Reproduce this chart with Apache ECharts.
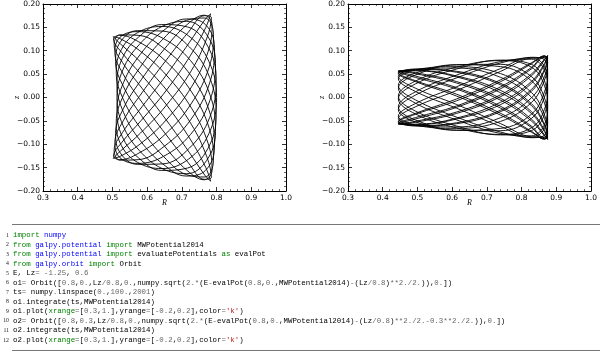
<!DOCTYPE html>
<html><head><meta charset="utf-8">
<script src="https://cdn.jsdelivr.net/npm/echarts@6/dist/echarts.min.js"></script>
<style>html,body{margin:0;padding:0;background:#fff}#c{width:600px;height:355px}</style>
</head><body><div id="c"></div>
<script>
const xRange = [0.3, 1.0];
const zRange = [-0.2, 0.2];

// orbit 1 (o1): R and z along the orbit
const orbit1R = [
.783,.769,.724,.656,.583,.526,.503,.521,.576,.653,.728,.779,
.791,.766,.713,.647,.582,.532,.511,.526,.573,.643,.719,.778,
.800,.778,.719,.643,.573,.526,.511,.532,.582,.647,.713,.766,
.791,.779,.728,.653,.576,.521,.503,.526,.583,.656,.724,.769,
.783,.766,.721,.655,.585,.529,.505,.521,.574,.650,.727,.780,
.794,.768,.713,.645,.580,.532,.513,.528,.575,.642,.716,.775,
.799,.780,.722,.645,.572,.523,.509,.532,.584,.650,.715,.764,
.787,.776,.728,.655,.579,.522,.502,.524,.581,.656,.727,.772,
.785,.765,.718,.653,.585,.531,.507,.522,.573,.647,.725,.781,
.797,.771,.714,.643,.577,.530,.513,.530,.577,.643,.714,.771,
.797,.781,.725,.647,.573,.522,.507,.531,.585,.653,.718,.765,
.785,.772,.727,.656,.581,.524,.502,.522,.579,.655,.728,.776,
.787,.764,.715,.650,.584,.532,.509,.523,.572,.645,.722,.780,
.799,.775,.716,.642,.575,.528,.513,.532,.580,.645,.713,.768,
.794,.780,.727,.650,.574,.521,.505,.529,.585,.655,.721,.766,
.783];
const orbit1Z = [
.179,.150,.089,.016,-.049,-.097,-.125,-.133,-.119,-.078,-.012,.066,
.134,.170,.165,.126,.067,.005,-.053,-.103,-.139,-.152,-.132,-.077,
0,.077,.132,.152,.139,.103,.053,-.005,-.067,-.126,-.165,-.170,
-.134,-.066,.012,.078,.119,.133,.125,.097,.049,-.016,-.089,-.150,
-.179,-.166,-.117,-.048,.020,.075,.113,.134,.133,.104,.046,-.031,
-.106,-.156,-.168,-.142,-.092,-.032,.027,.083,.129,.156,.151,.109,
.037,-.043,-.108,-.142,-.143,-.119,-.077,-.023,.039,.104,.156,.176,
.156,.099,.023,-.048,-.100,-.126,-.130,-.114,-.076,-.016,.057,.127,
.171,.175,.139,.078,.010,-.050,-.097,-.129,-.141,-.126,-.079,-.006,
.073,.135,.163,.152,.113,.059,0,-.059,-.113,-.152,-.163,-.135,
-.073,.006,.079,.126,.141,.129,.097,.050,-.010,-.078,-.139,-.175,
-.171,-.127,-.057,.016,.076,.114,.130,.126,.100,.048,-.023,-.099,
-.156,-.176,-.156,-.104,-.039,.023,.077,.119,.143,.142,.108,.043,
-.037,-.109,-.151,-.156,-.129,-.083,-.027,.032,.092,.142,.168,.156,
.106,.031,-.046,-.104,-.133,-.134,-.113,-.075,-.020,.048,.117,.166,
.179];

// orbit 2 (o2): R and z along the orbit
const orbit2R = [
.875,.866,.828,.740,.613,.494,.445,.494,.613,.740,.828,.866,
.875,.866,.828,.740,.613,.494,.445,.494,.613,.740,.828,.866,
.875,.866,.828,.740,.613,.494,.445,.494,.613,.740,.828,.866,
.875,.866,.828,.740,.613,.494,.445,.494,.613,.740,.828,.866,
.875,.866,.828,.740,.613,.494,.445,.494,.613,.740,.828,.866,
.875,.866,.828,.740,.613,.494,.445,.494,.613,.740,.828,.866,
.875,.866,.828,.740,.613,.494,.445,.494,.613,.740,.828,.866,
.875,.866,.828,.740,.613,.494,.445,.494,.613,.740,.828,.866,
.875,.866,.828,.740,.613,.494,.445,.494,.613,.740,.828,.866,
.875,.866,.828,.740,.613,.494,.445,.494,.613,.740,.828,.866,
.875,.866,.828,.740,.613,.494,.445,.494,.613,.740,.828,.866,
.875,.866,.828,.740,.613,.494,.445,.494,.613,.740,.828,.866,
.875,.866,.828,.740,.613,.494,.445,.494,.613,.740,.828,.866,
.875,.866,.828,.740,.613,.494,.445,.494,.613,.740,.828,.866,
.875,.866,.828,.740,.613,.494,.445,.494,.613,.740,.828,.866,
.875,.866,.828,.740,.613,.494,.445,.494,.613,.740,.828,.866,
.875,.866,.828,.740,.613,.494,.445,.494,.613,.740,.828,.866,
.875,.866,.828,.740,.613,.494,.445,.494,.613,.740,.828,.866,
.875,.866,.828,.740,.613,.494,.445,.494,.613,.740,.828,.866,
.875,.866,.828,.740,.613,.494,.445,.494,.613,.740,.828,.866,
.875];
const orbit2Z = [
.090,.073,.034,-.010,-.044,-.057,-.056,-.046,-.021,.019,.061,.086,
.086,.060,.017,-.027,-.054,-.060,-.053,-.036,-.007,.034,.072,.089,
.079,.045,-.001,-.043,-.063,-.060,-.045,-.020,.015,.056,.084,.085,
.057,.012,-.036,-.066,-.070,-.052,-.026,.005,.042,.074,.085,.066,
.024,-.025,-.065,-.079,-.065,-.035,-.003,.029,.061,.080,.071,.036,
-.013,-.058,-.082,-.077,-.048,-.012,.020,.048,.070,.071,.045,-.001,
-.048,-.081,-.086,-.062,-.023,.013,.040,.059,.066,.051,.011,-.037,
-.075,-.089,-.074,-.038,.003,.034,.051,.061,.056,.030,-.013,-.057,
-.085,-.088,-.064,-.023,.018,.043,.055,.058,.046,.015,-.030,-.070,
-.089,-.082,-.050,-.006,.031,.051,.057,.053,.034,-.002,-.046,-.080,
-.090,-.073,-.034,.010,.044,.057,.056,.046,.021,-.019,-.061,-.086,
-.086,-.060,-.017,.027,.054,.060,.053,.036,.007,-.034,-.072,-.089,
-.079,-.045,.001,.043,.063,.060,.045,.020,-.015,-.056,-.084,-.085,
-.057,-.012,.036,.066,.070,.052,.026,-.005,-.042,-.074,-.085,-.066,
-.024,.025,.065,.079,.065,.035,.003,-.029,-.061,-.080,-.071,-.036,
.013,.058,.082,.077,.048,.012,-.020,-.048,-.070,-.071,-.045,.001,
.048,.081,.086,.062,.023,-.013,-.040,-.059,-.066,-.051,-.011,.037,
.075,.089,.074,.038,-.003,-.034,-.051,-.061,-.056,-.030,.013,.057,
.085,.088,.064,.023,-.018,-.043,-.055,-.058,-.046,-.015,.030,.070,
.089,.082,.050,.006,-.031,-.051,-.057,-.053,-.034,.002,.046,.080,
.090];

const axisNames = ['R', 'z'];

// code listing (rich-text markup: k keyword, n namespace, m number, o operator, s string, b builtin)
const codeLines = [
"{k|import} {n|numpy}",
"{k|from} {n|galpy.potential} {k|import} MWPotential2014",
"{k|from} {n|galpy.potential} {k|import} evaluatePotentials {k|as} evalPot",
"{k|from} {n|galpy.orbit} {k|import} Orbit",
"E, Lz{o|=} {o|-}{m|1.25}, {m|0.6}",
"o1{o|=} Orbit([{m|0.8},{m|0.},Lz{o|/}{m|0.8},{m|0.},numpy{o|.}sqrt({m|2.}{o|*}(E{o|-}evalPot({m|0.8},{m|0.},MWPotential2014){o|-}(Lz{o|/}{m|0.8}){o|**}{m|2.}{o|/}{m|2.})),{m|0.}])",
"ts{o|=} numpy{o|.}linspace({m|0.},{m|100.},{m|2001})",
"o1{o|.}integrate(ts,MWPotential2014)",
"o1{o|.}plot({b|xrange}{o|=}[{m|0.3},{m|1.}],yrange{o|=}[{o|-}{m|0.2},{m|0.2}],color{o|=}{s|'k'})",
"o2{o|=} Orbit([{m|0.8},{m|0.3},Lz{o|/}{m|0.8},{m|0.},numpy{o|.}sqrt({m|2.}{o|*}(E{o|-}evalPot({m|0.8},{m|0.},MWPotential2014){o|-}(Lz{o|/}{m|0.8}){o|**}{m|2.}{o|/}{m|2.}{o|-}{m|0.3}{o|**}{m|2.}{o|/}{m|2.})),{m|0.}])",
"o2{o|.}integrate(ts,MWPotential2014)",
"o2{o|.}plot({b|xrange}{o|=}[{m|0.3},{m|1.}],yrange{o|=}[{o|-}{m|0.2},{m|0.2}],color{o|=}{s|'k'})"
];

const chart = echarts.init(document.getElementById('c'), null, {renderer: 'canvas'});

const TICK_FONT = {fontFamily: 'DejaVu Sans', fontSize: 7.5, color: '#000'};
const NAME_FONT = {fontFamily: 'Liberation Serif', fontStyle: 'italic', fontSize: 8, color: '#000'};
const grids = [
  {left: 43, top: 3, width: 243, height: 188},
  {left: 348, top: 3, width: 243, height: 188}
];

function baseAxis(g) {
  return {
    type: 'value', gridIndex: g,
    splitLine: {show: false},
    axisLine: {show: true, onZero: false, lineStyle: {color: '#000', width: 1}},
    axisTick: {show: true, inside: true, length: 4, lineStyle: {color: '#000', width: 0.8}},
    minorTick: {show: true, splitNumber: 5, length: 2, lineStyle: {color: '#000', width: 0.6}}
  };
}
const xAxes = [], yAxes = [];
[0, 1].forEach(g => {
  xAxes.push(Object.assign(baseAxis(g), {
    position: 'bottom', min: xRange[0], max: xRange[1], interval: 0.1,
    axisLabel: Object.assign({margin: 3, formatter: v => v.toFixed(1)}, TICK_FONT),
    name: axisNames[0], nameLocation: 'middle', nameGap: 8, nameMoveOverlap: false,
    nameTextStyle: NAME_FONT
  }));
  xAxes.push(Object.assign(baseAxis(g), {
    position: 'top', min: xRange[0], max: xRange[1], interval: 0.1,
    axisLabel: {show: false}
  }));
  yAxes.push(Object.assign(baseAxis(g), {
    position: 'left', min: zRange[0], max: zRange[1], interval: 0.05,
    axisLabel: Object.assign({margin: 3, formatter: v => (v < -1e-9 ? '\u2212' : '') + Math.abs(v).toFixed(2)}, TICK_FONT),
    name: axisNames[1], nameLocation: 'middle', nameGap: 22, nameMoveOverlap: false,
    nameTextStyle: NAME_FONT
  }));
  yAxes.push(Object.assign(baseAxis(g), {
    position: 'right', min: zRange[0], max: zRange[1], interval: 0.05,
    axisLabel: {show: false}
  }));
});

const data1 = orbit1R.map((r, i) => [r, orbit1Z[i]]);
const data2 = orbit2R.map((r, i) => [r, orbit2Z[i]]);

const codeFont = {fontFamily: 'Liberation Mono', fontSize: 7.4};
const rich = {
  k: Object.assign({fill: '#008000'}, codeFont),
  n: Object.assign({fill: '#0000ff'}, codeFont),
  m: Object.assign({fill: '#666666'}, codeFont),
  o: Object.assign({fill: '#666666'}, codeFont),
  s: Object.assign({fill: '#ba2121'}, codeFont),
  b: Object.assign({fill: '#008000'}, codeFont)
};
const graphics = [
  {type: 'line', shape: {x1: 12, y1: 224.5, x2: 600, y2: 224.5}, style: {stroke: '#777', lineWidth: 1}},
  {type: 'line', shape: {x1: 12, y1: 350.5, x2: 600, y2: 350.5}, style: {stroke: '#777', lineWidth: 1}}
];
codeLines.forEach((txt, i) => {
  const y = 235 + i * 9.55;
  graphics.push({type: 'text', x: 9, y: y, style: {text: String(i + 1), fontFamily: 'Liberation Serif', fontSize: 5.8, fill: '#222', align: 'right', verticalAlign: 'middle'}});
  graphics.push({type: 'text', x: 13, y: y, style: Object.assign({text: txt, rich: rich, fill: '#000', align: 'left', verticalAlign: 'middle'}, codeFont)});
});

chart.setOption({
  animation: false,
  backgroundColor: '#fff',
  grid: grids,
  xAxis: xAxes,
  yAxis: yAxes,
  series: [
    {type: 'line', xAxisIndex: 0, yAxisIndex: 0, data: data1, symbol: 'none', showSymbol: false, smooth: 0.4, silent: true,
     lineStyle: {color: '#000', width: 0.9}},
    {type: 'line', xAxisIndex: 2, yAxisIndex: 2, data: data2, symbol: 'none', showSymbol: false, smooth: 0.4, silent: true,
     lineStyle: {color: '#000', width: 0.9}}
  ],
  graphic: graphics
});
</script>
</body></html>
